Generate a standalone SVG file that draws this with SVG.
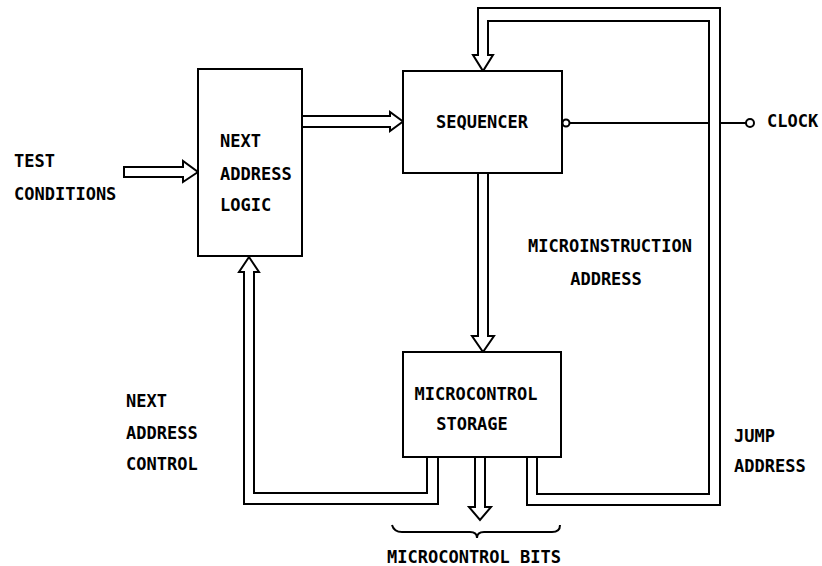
<svg xmlns="http://www.w3.org/2000/svg" width="822" height="566" viewBox="0 0 822 566">
<style>
text{font-family:"DejaVu Sans Mono","Liberation Mono",monospace;font-weight:bold;font-size:17px;fill:#000}
.box{fill:#fff;stroke:#000;stroke-width:2}
.ln{fill:none;stroke:#000;stroke-width:2;stroke-linejoin:miter}
.bus{fill:#fff;stroke:#000;stroke-width:2;stroke-linejoin:miter}
</style>
<rect width="822" height="566" fill="#fff"/>
<g id="connectors">
<path class="bus" d="M124,167 L183,167 L183,161 L198,172 L183,182 L183,177 L124,177 Z"/>
<path class="bus" d="M303,116 L390,116 L390,112 L403,121.5 L390,131 L390,127 L303,127"/>
<path class="ln" d="M537,457 L537,494 L709,494 L709,21 L488,21 L488,55 L493,55 L483,71 L473,55 L478,55 L478,8 L720,8 L720,505 L527,505 L527,457"/>
<path class="ln" d="M478,173 L478,336 L472,336 L483,352 L494,336 L488,336 L488,173"/>
<path class="ln" d="M427,457 L427,493 L254,493 L254,272 L259,272 L249,257 L239,272 L244,272 L244,504 L438,504 L438,457"/>
<path class="ln" d="M475,457 L475,507 L469,507 L480,520 L491,507 L485,507 L485,457"/>
<path class="ln" d="M392,525 Q394,532 402,532 L470,532 Q477,532 477,538 Q477,532 484,532 L552,532 Q560,532 560,525"/>
<path class="ln" d="M570,123 L709,123 M720,123 L746,123"/>
<circle cx="566" cy="123" r="3.5" fill="#fff" stroke="#000" stroke-width="2"/>
<circle cx="750" cy="123" r="4" fill="#fff" stroke="#000" stroke-width="2"/>
</g>
<g id="next-address-logic">
<rect class="box" x="198" y="69" width="104" height="187"/>
<text x="220" y="147">NEXT</text>
<text x="220" y="180">ADDRESS</text>
<text x="220" y="211">LOGIC</text>
</g>
<g id="sequencer">
<rect class="box" x="403" y="71" width="159" height="102"/>
<text x="482" y="128" text-anchor="middle">SEQUENCER</text>
</g>
<g id="microcontrol-storage">
<rect class="box" x="403" y="352" width="158" height="105"/>
<text x="476" y="400" text-anchor="middle">MICROCONTROL</text>
<text x="472" y="430" text-anchor="middle">STORAGE</text>
</g>
<g id="labels">
<text x="14" y="167">TEST</text>
<text x="14" y="200">CONDITIONS</text>
<text x="767" y="127">CLOCK</text>
<text x="610" y="252" text-anchor="middle">MICROINSTRUCTION</text>
<text x="606" y="285" text-anchor="middle">ADDRESS</text>
<text x="126" y="407">NEXT</text>
<text x="126" y="439">ADDRESS</text>
<text x="126" y="470">CONTROL</text>
<text x="734" y="442">JUMP</text>
<text x="734" y="472">ADDRESS</text>
<text x="474" y="563" text-anchor="middle">MICROCONTROL BITS</text>
</g>
</svg>
